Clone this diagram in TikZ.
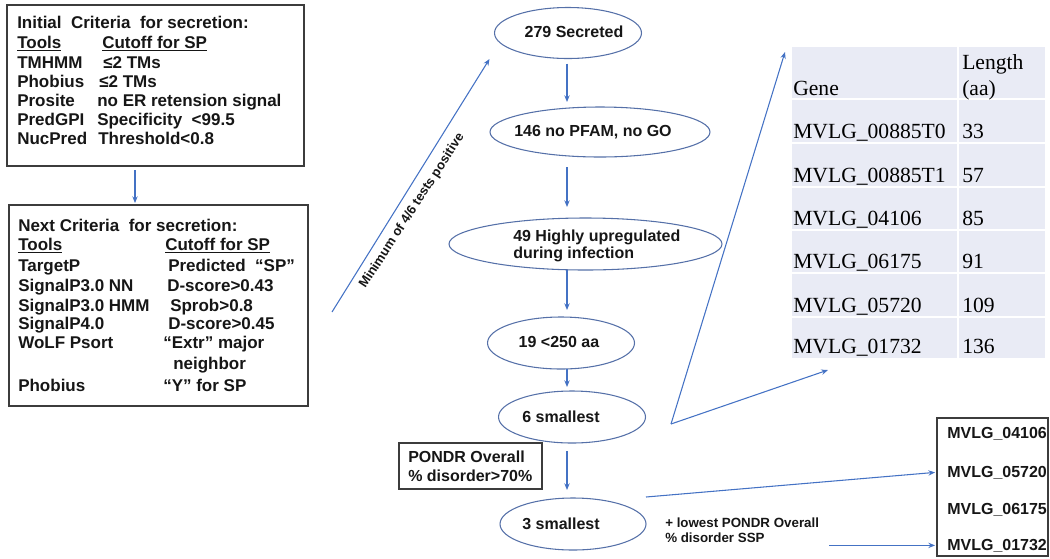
\documentclass[tikz,border=0pt]{standalone}
\usepackage{fontspec}
\newfontfamily\arial{Liberation Sans}
\newfontfamily\tabserif{Liberation Serif}
\usetikzlibrary{shapes.geometric,arrows.meta,calc}
\definecolor{arrowblue}{HTML}{4472C4}
\definecolor{ellline}{HTML}{5570A8}
\definecolor{boxline}{HTML}{3C3C3C}
\definecolor{tabfill}{HTML}{E9EBF5}
\definecolor{txt}{HTML}{161616}
\begin{document}
\begin{tikzpicture}[x=0.75pt,y=-0.75pt,
  arr/.style={draw=arrowblue, line width=0.8pt, -{Stealth[length=5pt,width=4pt]}},
  crit/.style={draw=boxline, line width=1pt, inner sep=0pt, outer sep=0pt, anchor=north west},
  ell/.style={ellipse, draw=ellline, line width=0.8pt, inner sep=0pt, outer sep=0pt},
  lt/.style={anchor=base west, inner sep=0pt, font=\arial\bfseries\fontsize{12.75}{15}\selectfont, text=txt},
  et/.style={inner sep=0pt, font=\arial\bfseries\fontsize{12}{14}\selectfont, text=txt},
  tt/.style={anchor=base west, inner sep=0pt, font=\tabserif\fontsize{16.2}{18}\selectfont, text=black},
  rt/.style={anchor=base west, inner sep=0pt, font=\arial\bfseries\fontsize{12}{14}\selectfont, text=txt},
]
\useasboundingbox (0,0) rectangle (1050,558);

% ---- box 1
\node[crit, minimum width=222.75pt, minimum height=120.75pt] (b1) at (7,5) {};
\node[lt] (b1t0) at (17,28) {Initial\ \ Criteria\ \ for secretion:};
\node[lt] (b1t1) at (17,48) {\underline{Tools}};
\node[lt] (b1v1) at (102,48) {\underline{Cutoff for SP}};
\node[lt] (b1t2) at (17,68.5) {TMHMM};
\node[lt] (b1v2) at (103,68.5) {≤2 TMs};
\node[lt] (b1t3) at (17,87.5) {Phobius};
\node[lt] (b1v3) at (99,87.5) {≤2 TMs};
\node[lt] (b1t4) at (17,106) {Prosite};
\node[lt] (b1v4) at (97,106) {no ER retension signal};
\node[lt] (b1t5) at (17,125.5) {PredGPI};
\node[lt] (b1v5) at (97,125.5) {Specificity\ \ <99.5};
\node[lt] (b1t6) at (17,144.5) {NucPred};
\node[lt] (b1v6) at (98,144.5) {Threshold<0.8};

% ---- box 2
\node[crit, minimum width=224.25pt, minimum height=150.75pt] (b2) at (9,205) {};
\node[lt] (b2t0) at (18,231) {Next Criteria\ \ for secretion:};
\node[lt] (b2t1) at (18,250.5) {\underline{Tools}};
\node[lt] (b2v1) at (165,250.5) {\underline{Cutoff for SP}};
\node[lt] (b2t2) at (18,271) {TargetP};
\node[lt] (b2v2) at (168,271) {Predicted\ \ “SP”};
\node[lt] (b2t3) at (18,291) {SignalP3.0 NN};
\node[lt] (b2v3) at (167,291) {D-score>0.43};
\node[lt] (b2t4) at (18,311) {SignalP3.0 HMM};
\node[lt] (b2v4) at (170,311) {Sprob>0.8};
\node[lt] (b2t5) at (18,329.5) {SignalP4.0};
\node[lt] (b2v5) at (168,329.5) {D-score>0.45};
\node[lt] (b2t6) at (18,348) {WoLF Psort};
\node[lt] (b2v6) at (163,348) {“Extr” major};
\node[lt] (b2v6b) at (173,369) {neighbor};
\node[lt] (b2t7) at (18,391.5) {Phobius};
\node[lt] (b2v7) at (163,391.5) {“Y” for SP};

\draw[arr] ($(b1.south west)+(128,4)$) -- ($(b2.north west)+(126,-2)$);

% ---- ellipses
\node[ell, minimum width=110.25pt, minimum height=38.25pt] (e1) at (568,33) {};
\node[et] (e1t) at (574,32) {279 Secreted};
\node[ell, minimum width=165pt, minimum height=37.5pt] (e2) at (600,132) {};
\node[et] (e2t) at (593,132) {146 no PFAM, no GO};
\node[ell, minimum width=204.75pt, minimum height=39pt] (e3) at (585.5,244) {};
\node[et, anchor=west, align=left, font=\arial\bfseries\fontsize{12}{12.75}\selectfont] (e3t) at (513,245.5) {49 Highly upregulated\\during infection};
\node[ell, minimum width=110.25pt, minimum height=39pt] (e4) at (561,343) {};
\node[et] (e4t) at (559,342) {19 <250 aa};
\node[ell, minimum width=110.25pt, minimum height=39pt] (e5) at (572,417) {};
\node[et] (e5t) at (561,417) {6 smallest};
\node[ell, minimum width=109.5pt, minimum height=39pt] (e6) at (573,524) {};
\node[et] (e6t) at (561,523.5) {3 smallest};

\coordinate (ax) at (567,0);
\draw[arr] ($(ax |- e1.south)+(0,5)$) -- ($(ax |- e2.north)+(0,-5)$);
\draw[arr] ($(ax |- e2.south)+(0,10)$) -- ($(ax |- e3.north)+(0,-11)$);
\draw[arr] (ax |- e3.south) -- ($(ax |- e4.north)+(0,-7)$);
\draw[arr] (ax |- e4.south) -- ($(ax |- e5.north)+(0,-4)$);
\draw[arr] ($(ax |- e5.south)+(0,8)$) -- ($(ax |- e6.north)+(0,-8)$);

% ---- PONDR box
\node[crit, minimum width=107.25pt, minimum height=34.5pt] (pb) at (399,443) {};
\node[et, anchor=west, align=left, font=\arial\bfseries\fontsize{12}{14.25}\selectfont] (pbt) at (408,466.5) {PONDR Overall\\\% disorder>70\%};

% ---- diagonal with label
\coordinate (dstart) at (332,312);
\draw[arr] (dstart) -- ($(e1.west)+(-5,26)$);
\node[inner sep=0pt, rotate=57, font=\arial\bfseries\fontsize{9.75}{11}\selectfont, text=txt] (dlab) at (412,211) {Minimum of 4/6 tests positive};

% ---- table
\node[fill=tabfill, inner sep=0pt, outer sep=0pt, anchor=north west, minimum width=189.75pt, minimum height=233.25pt] (tab) at (792,47) {};
\foreach \yy in {99,143,187,230,273,317} {
  \draw[white, line width=1.5pt] (tab.west |- 0,\yy) -- (tab.east |- 0,\yy);
}
\draw[white, line width=1.5pt] (958,47) -- (958,358);
\node[tt] (th1) at (793,95) {Gene};
\node[tt] (th2) at (962,69) {Length};
\node[tt] (th3) at (962,95.5) {(aa)};
\node[tt] (g1) at (793,138) {MVLG\_00885T0};
\node[tt] (l1) at (962,138) {33};
\node[tt] (g2) at (793,182) {MVLG\_00885T1};
\node[tt] (l2) at (962,182) {57};
\node[tt] (g3) at (793,225) {MVLG\_04106};
\node[tt] (l3) at (962,225) {85};
\node[tt] (g4) at (793,268) {MVLG\_06175};
\node[tt] (l4) at (962,268) {91};
\node[tt] (g5) at (793,312) {MVLG\_05720};
\node[tt] (l5) at (962,312) {109};
\node[tt] (g6) at (793,353) {MVLG\_01732};
\node[tt] (l6) at (962,353) {136};

\coordinate (vapex) at (671,424);
\draw[arr] (vapex) -- ($(tab.north west)+(-7,5)$);
\draw[arr] (vapex) -- ($(tab.south west)+(36,12)$);

% ---- right box
\node[crit, minimum width=83.25pt, minimum height=103.5pt] (rb) at (937,418) {};
\node[rt] (r1) at (947,438) {MVLG\_04106};
\node[rt] (r2) at (947,477) {MVLG\_05720};
\node[rt] (r3) at (947,514) {MVLG\_06175};
\node[rt] (r4) at (947,550) {MVLG\_01732};

\node[et, anchor=west, align=left, font=\arial\bfseries\fontsize{10}{11.25}\selectfont] (lw) at (665,530.5) {+ lowest PONDR Overall\\\% disorder SSP};

\draw[arr] ($(e6.east)+(0,-27)$) -- ($(rb.west |- r2)+(-2,0)$);
\draw[arr] ($(lw.east |- r4)+(10,0)$) -- ($(rb.west |- r4)+(-2,0)$);
\end{tikzpicture}
\end{document}
